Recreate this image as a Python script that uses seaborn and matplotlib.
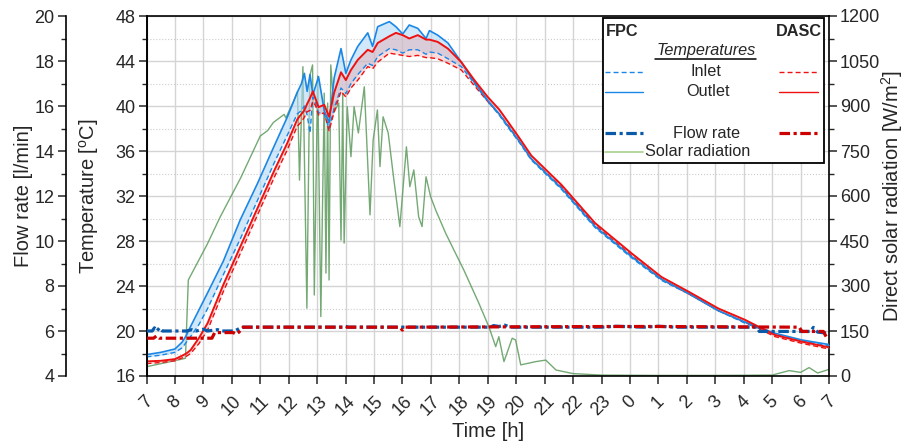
import matplotlib
matplotlib.use("Agg")
import matplotlib.pyplot as plt
import seaborn as sns
from matplotlib.patches import Rectangle
from matplotlib.lines import Line2D
from matplotlib.ticker import MultipleLocator
from matplotlib.transforms import ScaledTranslation

# ---------------- data (clock hours, 7 .. 31 = 7 next day) ----------------
temp_time = [7.00, 7.50, 8.00, 8.25, 8.40, 8.55, 8.85, 9.15, 9.70, 10.30, 10.90, 11.50,
             11.95, 12.30, 12.45, 12.55, 12.65, 12.75, 12.85, 12.95, 13.05, 13.25, 13.42,
             13.60, 13.84, 14.01, 14.19, 14.43, 14.78, 14.95, 15.13, 15.54, 15.77, 16.01,
             16.24, 16.54, 16.83, 16.95, 17.24, 17.60, 18.07, 18.53, 19.00, 19.40, 19.71,
             20.10, 20.53, 21.59, 22.77, 24.06, 25.11, 26.06, 27.11, 28.04, 29.10, 30.05, 31.00]
fpc_outlet = [17.9, 18.1, 18.4, 19.0, 19.6, 20.4, 21.9, 23.4, 26.2, 29.9, 33.1, 36.5,
              39.0, 41.2, 42.0, 42.9, 41.3, 42.8, 41.0, 41.8, 42.6, 39.6, 38.5,
              42.5, 45.1, 42.9, 44.1, 45.3, 46.5, 45.3, 47.05, 47.5, 47.05, 46.4,
              47.2, 46.9, 46.0, 46.7, 46.3, 45.6, 43.9, 42.1, 40.5, 39.3, 38.2,
              36.9, 35.3, 32.7, 29.3, 26.6, 24.6, 23.35, 21.8, 20.8, 19.8, 19.2, 18.8]
fpc_inlet = [17.7, 17.85, 18.1, 18.5, 19.0, 19.5, 20.6, 22.0, 25.0, 28.2, 31.6, 35.0,
             37.4, 39.3, 39.6, 40.0, 39.2, 37.6, 40.8, 40.2, 39.4, 39.3, 38.0,
             39.8, 41.6, 41.1, 42.0, 42.8, 43.8, 43.6, 44.4, 45.1, 45.0, 44.7,
             45.0, 45.0, 44.6, 44.8, 44.7, 44.2, 43.5, 42.0, 40.4, 39.2, 38.1,
             36.8, 35.2, 32.6, 29.2, 26.5, 24.5, 23.3, 21.8, 20.7, 19.7, 19.1, 18.7]
dasc_outlet = [17.3, 17.35, 17.5, 17.8, 18.0, 18.3, 19.4, 20.7, 24.1, 27.5, 30.9, 34.3,
               36.7, 38.8, 39.3, 39.6, 40.2, 40.7, 41.3, 40.6, 39.9, 40.1, 39.05,
               41.2, 43.0, 42.3, 43.2, 44.1, 45.0, 44.8, 45.6, 46.2, 46.5, 46.3,
               46.0, 46.3, 45.9, 45.9, 45.7, 45.1, 43.9, 42.3, 40.8, 39.7, 38.6,
               37.2, 35.6, 33.0, 29.6, 26.9, 24.8, 23.5, 22.0, 21.0, 19.65, 19.05, 18.55]
dasc_inlet = [17.1, 17.2, 17.35, 17.6, 17.75, 18.0, 18.9, 20.1, 23.5, 26.9, 30.3, 33.7,
              36.1, 38.2, 38.6, 39.0, 39.5, 39.6, 40.4, 40.0, 39.2, 39.4, 37.8,
              39.5, 41.3, 40.8, 41.6, 42.3, 43.5, 43.3, 43.9, 44.7, 44.6, 44.5,
              44.4, 44.5, 44.3, 44.3, 44.2, 43.8, 43.2, 41.8, 40.4, 39.3, 38.3,
              36.9, 35.3, 32.8, 29.4, 26.7, 24.6, 23.3, 21.8, 20.8, 19.5, 18.9, 18.4]

solar_time = [7.00, 7.70, 8.37, 8.47, 9.14, 9.59, 10.31, 11.00, 11.26, 11.46, 11.84, 11.90,
              12.19, 12.31, 12.38, 12.50, 12.64, 12.74, 12.84, 12.90, 13.02, 13.13, 13.25,
              13.31, 13.37, 13.42, 13.48, 13.60, 13.76, 13.84, 13.90, 13.95, 14.06, 14.19,
              14.30, 14.45, 14.66, 14.86, 14.97, 15.12, 15.21, 15.32, 15.50, 15.67, 15.91,
              16.14, 16.26, 16.40, 16.57, 16.69, 16.83, 16.99, 17.17, 17.52, 17.81, 18.16,
              18.69, 19.04, 19.28, 19.39, 19.57, 19.86, 19.98, 20.16, 20.69, 21.04, 21.40,
              22.00, 23.00, 25.00, 27.00, 29.00, 29.60, 30.00, 30.30, 30.60, 31.00]
solar_rad = [31, 45, 59, 320, 440, 530, 660, 800, 818, 845, 872, 860,
             920, 948, 653, 1031, 226, 1000, 1037, 270, 1000, 198, 943,
             343, 910, 320, 1037, 880, 910, 453, 943, 443, 898, 731,
             898, 810, 964, 537, 787, 887, 698, 864, 810, 676, 498,
             764, 631, 687, 531, 498, 664, 598, 553, 476, 420, 353,
             242, 164, 98, 131, 48, 126, 120, 37, 48, 53, 20,
             8, 3, 2, 2, 3, 18, 12, 28, 10, 22]

fpc_flow_time = [7.00, 7.20, 7.28, 7.36, 7.46, 7.56, 8.40, 8.60, 8.75, 9.00, 9.15, 9.50,
                 9.65, 10.10, 10.35, 13.90, 14.00, 14.10, 19.10, 19.20, 19.40, 19.60,
                 19.80, 23.00, 23.50, 24.50, 25.00, 25.60, 28.45, 28.55, 30.35, 30.45,
                 30.60, 31.00]
fpc_flow = [6.00, 6.00, 6.14, 6.00, 6.14, 6.00, 6.00, 6.06, 6.00, 6.08, 6.00, 6.06,
            6.00, 6.00, 6.17, 6.17, 6.21, 6.17, 6.17, 6.24, 6.20, 6.26,
            6.17, 6.17, 6.21, 6.17, 6.21, 6.17, 6.17, 5.98, 5.98, 6.16,
            5.95, 5.90]
dasc_flow_time = [7.00, 7.25, 7.35, 7.45, 9.30, 9.40, 10.05, 10.15, 10.25, 10.40, 15.90,
                  16.00, 16.10, 23.50, 25.00, 29.95, 30.05, 30.80, 30.90, 31.00]
dasc_flow = [5.68, 5.68, 5.78, 5.68, 5.68, 5.93, 5.93, 5.86, 5.95, 6.17, 6.17,
             6.04, 6.17, 6.20, 6.20, 6.17, 5.98, 5.98, 5.75, 5.75]

hour_ticks = list(range(7, 32))
hour_labels = ["7", "8", "9", "10", "11", "12", "13", "14", "15", "16", "17", "18", "19",
               "20", "21", "22", "23", "0", "1", "2", "3", "4", "5", "6", "7"]

# ---------------- style ----------------
sns.set_style("ticks")
plt.rcParams['font.family'] = ['Liberation Sans', 'DejaVu Sans']
plt.rcParams['mathtext.fontset'] = 'custom'
plt.rcParams['mathtext.rm'] = 'Liberation Sans'
plt.rcParams['mathtext.it'] = 'Liberation Sans:italic'
plt.rcParams['axes.linewidth'] = 1.2

BLUE_T = '#1a87e6'
RED_T = '#ee1111'
BLUE_F = '#0a5aaa'
RED_F = '#cc0000'
GREEN = '#5c9a5c'
GREEN_LEG = '#a9d08e'

TICK = 13
LAB = 14.5
LEG = 11.7

fig = plt.figure(figsize=(9.06, 4.47), dpi=100)
rect = [146.5 / 906, 1 - 376 / 447, 682.5 / 906, 360 / 447]
ax_s = fig.add_axes(rect, label='solar')
ax_t = fig.add_axes(rect, sharex=ax_s, label='temp')
ax_f = fig.add_axes(rect, sharex=ax_s, label='flow')
ax_s.set_zorder(1)
ax_t.set_zorder(2)
ax_f.set_zorder(3)
ax_t.patch.set_visible(False)
ax_f.patch.set_visible(False)

# ---------------- solar axis (base, right) ----------------
sns.lineplot(x=solar_time, y=solar_rad, ax=ax_s, color=GREEN, lw=1.0, alpha=0.85)
ax_s.set_xlim(7, 31)
ax_s.set_ylim(0, 1200)
ax_s.yaxis.tick_right()
ax_s.yaxis.set_label_position('right')
ax_s.yaxis.set_major_locator(MultipleLocator(150))
ax_s.yaxis.set_minor_locator(MultipleLocator(75))
ax_s.set_xticks(hour_ticks)
ax_s.set_xticklabels(hour_labels)
for lab in ax_s.get_xticklabels():
    lab.set_rotation(45)
    lab.set_ha('center')
    lab.set_transform(lab.get_transform() + ScaledTranslation(4 / 100, 0, fig.dpi_scale_trans))
ax_s.tick_params(axis='x', which='major', direction='out', length=6, width=1.1,
                 labelsize=TICK, pad=6)
ax_s.tick_params(axis='y', which='major', direction='out', length=6, width=1.1,
                 labelsize=TICK, left=False, right=True, labelleft=False, labelright=True, pad=2)
ax_s.tick_params(axis='y', which='minor', direction='out', length=3.5, width=1.0,
                 left=False, right=True)
ax_s.xaxis.grid(True, which='major', color='#d4d4d4', lw=1.0, ls='-')
ax_s.yaxis.grid(True, which='major', color='#d4d4d4', lw=1.0, ls='-')
ax_s.yaxis.grid(True, which='minor', color='#cccccc', lw=0.8, ls=':')
ax_s.set_axisbelow(True)
for sp in ax_s.spines.values():
    sp.set_visible(True)
    sp.set_color('black')
ax_s.set_xlabel('Time [h]', fontsize=LAB)
ax_s.set_ylabel('Direct solar radiation [W/m$^{2}$]', fontsize=LAB)
ax_s.xaxis.set_label_coords(0.5007, -0.128)
ax_s.yaxis.set_label_coords(1.074, 0.5)

# ---------------- temperature axis (left) ----------------
ax_t.fill_between(temp_time, fpc_inlet, fpc_outlet, color='#b3d9f7', alpha=0.6, lw=0)
ax_t.fill_between(temp_time, dasc_inlet, dasc_outlet, color='#f28b8b', alpha=0.3, lw=0)
sns.lineplot(x=temp_time, y=fpc_inlet, ax=ax_t, color=BLUE_T, lw=1.0)
ax_t.lines[-1].set_dashes([3.6, 2.2])
sns.lineplot(x=temp_time, y=dasc_inlet, ax=ax_t, color=RED_T, lw=1.0)
ax_t.lines[-1].set_dashes([3.6, 2.2])
sns.lineplot(x=temp_time, y=fpc_outlet, ax=ax_t, color=BLUE_T, lw=1.2)
sns.lineplot(x=temp_time, y=dasc_outlet, ax=ax_t, color=RED_T, lw=1.4)
ax_t.set_ylim(16, 48)
ax_t.yaxis.set_major_locator(MultipleLocator(4))
ax_t.yaxis.set_minor_locator(MultipleLocator(2))
ax_t.tick_params(axis='y', which='major', direction='out', length=6, width=1.1,
                 labelsize=TICK, left=True, right=False, labelleft=True, labelright=False, pad=2)
ax_t.tick_params(axis='y', which='minor', direction='out', length=3.5, width=1.0)
ax_t.tick_params(axis='x', which='both', bottom=False, labelbottom=False)
for k in ['top', 'right', 'bottom']:
    ax_t.spines[k].set_visible(False)
ax_t.spines['left'].set_color('black')
ax_t.set_xlabel('')
ax_t.set_ylabel('Temperature [$^{\\mathrm{o}}$C]', fontsize=LAB)
ax_t.yaxis.set_label_coords(-0.067, 0.5)
ax_t.grid(False)

# ---------------- flow rate axis (outer left) ----------------
sns.lineplot(x=fpc_flow_time, y=fpc_flow, ax=ax_f, color=BLUE_F, lw=2.3)
ax_f.lines[-1].set_dashes([3.3, 1.1, 1.0, 1.1])
sns.lineplot(x=dasc_flow_time, y=dasc_flow, ax=ax_f, color=RED_F, lw=2.3)
ax_f.lines[-1].set_dashes([3.3, 1.1, 1.0, 1.1])
ax_f.set_ylim(4, 20)
ax_f.yaxis.set_major_locator(MultipleLocator(2))
ax_f.yaxis.set_minor_locator(MultipleLocator(1))
ax_f.spines['left'].set_position(('axes', -80.8 / 682.5))
ax_f.spines['left'].set_color('black')
for k in ['top', 'right', 'bottom']:
    ax_f.spines[k].set_visible(False)
ax_f.tick_params(axis='y', which='major', direction='out', length=6, width=1.1,
                 labelsize=TICK, left=True, right=False, labelleft=True, labelright=False, pad=2)
ax_f.tick_params(axis='y', which='minor', direction='out', length=3.5, width=1.0)
ax_f.tick_params(axis='x', which='both', bottom=False, labelbottom=False)
ax_f.set_xlabel('')
ax_f.set_ylabel('Flow rate [l/min]', fontsize=LAB)
ax_f.yaxis.set_label_coords(-0.166, 0.5)
ax_f.grid(False)

# ---------------- custom legend ----------------
tr = ax_f.transAxes
ax_f.add_patch(Rectangle((0.669, 0.592), 0.324, 0.402, transform=tr, fc='white',
                         ec='black', lw=1.3, zorder=10, clip_on=False))


def leg_line(x0, x1, y, **kw):
    ax_f.add_line(Line2D([x0, x1], [y, y], transform=tr, zorder=11, clip_on=False, **kw))


def leg_text(x, y, s, **kw):
    ax_f.text(x, y, s, transform=tr, zorder=12, fontsize=LEG, va='center', **kw)


LX0, LX1 = 0.672, 0.727
RX0, RX1 = 0.927, 0.984
leg_text(0.673, 0.956, 'FPC', ha='left', fontweight='bold')
leg_text(0.990, 0.956, 'DASC', ha='right', fontweight='bold')
leg_text(0.820, 0.903, 'Temperatures', ha='center', fontstyle='italic')
leg_line(0.745, 0.893, 0.880, color='black', lw=1.1)
leg_line(LX0, LX1, 0.845, color=BLUE_T, lw=1.0, dashes=[3.6, 2.2])
leg_text(0.820, 0.845, 'Inlet', ha='center')
leg_line(RX0, RX1, 0.845, color=RED_T, lw=1.0, dashes=[3.6, 2.2])
leg_line(LX0, LX1, 0.790, color=BLUE_T, lw=1.0)
leg_text(0.823, 0.790, 'Outlet', ha='center')
leg_line(RX0, RX1, 0.790, color=RED_T, lw=1.0)
leg_line(LX0, LX1, 0.674, color=BLUE_F, lw=2.3, dashes=[3.3, 1.1, 1.0, 1.1])
leg_text(0.820, 0.674, 'Flow rate', ha='center')
leg_line(RX0, RX1, 0.674, color=RED_F, lw=2.3, dashes=[3.3, 1.1, 1.0, 1.1])
leg_line(LX0, LX1, 0.623, color=GREEN_LEG, lw=1.2)
leg_text(0.808, 0.623, 'Solar radiation', ha='center')

fig.savefig('out.png', dpi=100)
